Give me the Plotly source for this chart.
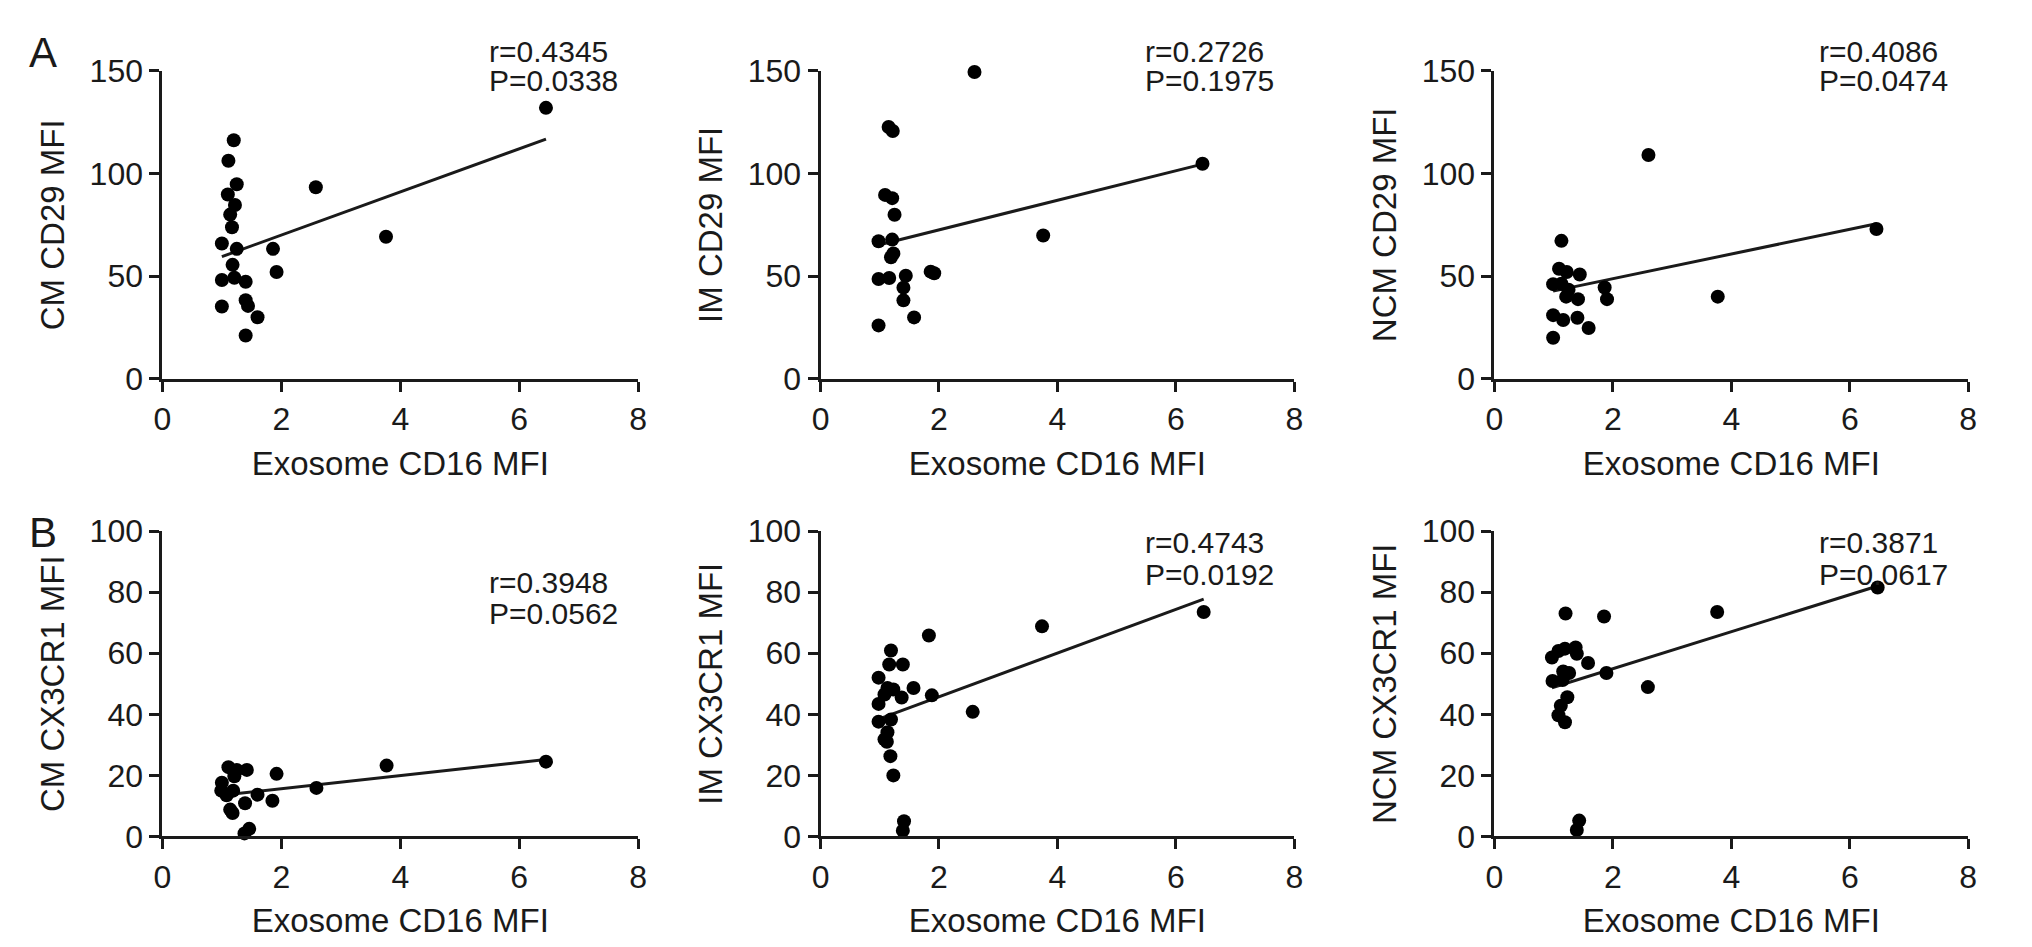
import plotly.graph_objects as go

# ---------------- data ----------------
# Panel A: CD29 MFI vs exosome CD16 MFI
a_cm_x = [1.20, 1.11, 1.25, 1.10, 1.22, 1.14, 1.17, 1.00, 1.25, 1.86, 1.18, 1.92, 1.00, 1.21, 1.40,
          1.40, 1.44, 1.00, 1.60, 1.40, 2.58, 3.76, 6.45]
a_cm_y = [116.2, 106.2, 94.8, 89.8, 84.7, 80.0, 73.8, 65.9, 63.3, 63.3, 55.5, 52.0, 48.1, 49.2, 47.3,
          38.3, 35.5, 35.2, 30.0, 21.1, 93.3, 69.2, 132.0]

a_im_x = [1.15, 1.22, 1.09, 1.21, 1.25, 0.98, 1.21, 1.23, 1.19, 0.98, 1.16, 1.44, 1.40, 1.40, 1.86,
          1.92, 1.58, 0.98, 2.60, 3.76, 6.45]
a_im_y = [122.7, 120.7, 89.6, 88.0, 79.9, 67.0, 67.8, 61.0, 59.2, 48.6, 49.1, 50.2, 44.4, 38.2, 52.2,
          51.4, 29.9, 26.0, 149.5, 69.8, 104.8]

a_ncm_x = [2.60, 1.13, 1.09, 1.22, 1.44, 0.99, 1.13, 1.25, 1.21, 1.41, 1.86, 1.90, 0.99, 1.16, 1.40,
           1.59, 0.99, 3.77, 6.45]
a_ncm_y = [109.0, 67.2, 53.6, 52.0, 50.8, 46.1, 46.3, 43.4, 40.0, 38.8, 44.5, 38.8, 31.0, 28.6, 29.7,
           24.7, 20.0, 40.0, 73.0]

# Panel B: CX3CR1 MFI vs exosome CD16 MFI
b_cm_x = [1.11, 1.25, 1.42, 1.21, 1.92, 1.00, 0.99, 1.19, 1.08, 1.60, 1.39, 1.14, 1.18, 1.85, 2.59,
          3.77, 1.46, 1.38, 6.45]
b_cm_y = [22.7, 21.8, 21.8, 19.7, 20.5, 17.6, 15.0, 15.0, 13.5, 13.7, 10.9, 8.8, 7.7, 11.7, 15.9,
          23.2, 2.5, 1.0, 24.5]

b_im_x = [1.83, 3.74, 1.19, 1.16, 1.39, 0.98, 1.13, 1.23, 1.57, 1.08, 1.37, 1.88, 0.98, 0.98, 1.19,
          1.13, 1.08, 1.12, 1.18, 1.23, 2.57, 1.41, 1.39, 6.47]
b_im_y = [65.8, 68.8, 60.9, 56.3, 56.3, 52.0, 48.6, 48.1, 48.6, 46.5, 45.5, 46.2, 43.4, 37.6, 38.3,
          34.1, 31.8, 31.0, 26.3, 20.0, 40.8, 5.0, 1.9, 73.5]

b_ncm_x = [1.20, 1.85, 3.76, 0.97, 1.08, 1.19, 1.37, 1.39, 1.58, 1.16, 1.26, 1.89, 0.98, 1.15, 2.59,
           1.23, 1.12, 1.08, 1.19, 1.43, 1.39, 6.47]
b_ncm_y = [73.0, 72.0, 73.5, 58.6, 60.7, 61.5, 61.9, 59.8, 56.8, 54.0, 53.5, 53.5, 50.9, 51.2, 48.9,
           45.6, 42.8, 39.7, 37.4, 5.2, 2.1, 81.5]

# regression line end values (y at min x and max x)
fit_a_cm = [59.5, 116.8]
fit_a_im = [65.2, 104.6]
fit_a_ncm = [42.7, 75.5]
fit_b_cm = [13.5, 25.2]
fit_b_im = [38.4, 77.7]
fit_b_ncm = [48.7, 82.0]

y_titles = ["CM CD29 MFI", "IM CD29 MFI", "NCM CD29 MFI",
            "CM CX3CR1 MFI", "IM CX3CR1 MFI", "NCM CX3CR1 MFI"]
r_labels = ["r=0.4345", "r=0.2726", "r=0.4086", "r=0.3948", "r=0.4743", "r=0.3871"]
p_labels = ["P=0.0338", "P=0.1975", "P=0.0474", "P=0.0562", "P=0.0192", "P=0.0617"]
x_title = "Exosome CD16 MFI"
x_ticks = [0, 2, 4, 6, 8]
yticks_a = [0, 50, 100, 150]
yticks_b = [0, 20, 40, 60, 80, 100]

panels = [
    (a_cm_x, a_cm_y, fit_a_cm), (a_im_x, a_im_y, fit_a_im), (a_ncm_x, a_ncm_y, fit_a_ncm),
    (b_cm_x, b_cm_y, fit_b_cm), (b_im_x, b_im_y, fit_b_im), (b_ncm_x, b_ncm_y, fit_b_ncm),
]

# ---------------- layout ----------------
W, H = 2032, 947
FONT = "Liberation Sans, Arial, Helvetica, sans-serif"
INK = "#1a1a1a"

x_domains = [[146.7 / W, 626.7 / W], [810.7 / W, 1288.7 / W], [1490.7 / W, 1968.7 / W]]
y_domains = [[1 - 366.7 / H, 1 - 46.7 / H], [1 - 842.5 / H, 1 - 525.0 / H]]
# r / P label heights as fractions of each plot's height
ann_y = [(1.062, 0.968), (1.062, 0.968), (1.062, 0.968),
         (0.833, 0.729), (0.962, 0.858), (0.962, 0.858)]

fig = go.Figure()

for i, (xs, ys, fy) in enumerate(panels):
    row, col = divmod(i, 3)
    n = i + 1
    xa = "x" if n == 1 else f"x{n}"
    ya = "y" if n == 1 else f"y{n}"
    fx = [min(xs), max(xs)]
    fig.add_trace(go.Scatter(x=fx, y=fy, mode="lines", xaxis=xa, yaxis=ya,
                             line=dict(color=INK, width=3), showlegend=False,
                             cliponaxis=False, hoverinfo="skip"))
    fig.add_trace(go.Scatter(x=xs, y=ys, mode="markers", xaxis=xa, yaxis=ya,
                             marker=dict(color="black", size=14, line=dict(width=0)),
                             showlegend=False, cliponaxis=False))

    yt = yticks_a if row == 0 else yticks_b
    axis_common = dict(showline=True, linecolor=INK, linewidth=3, ticks="outside",
                       ticklen=10, tickwidth=3, tickcolor=INK, showgrid=False,
                       zeroline=False, tickfont=dict(family=FONT, size=32, color=INK))
    fig.layout[f"xaxis{'' if n == 1 else n}"] = dict(
        domain=x_domains[col], anchor=ya, range=[0, 8], tickvals=x_ticks,
        title=dict(text=x_title, font=dict(family=FONT, size=33, color=INK), standoff=16),
        **axis_common)
    fig.layout[f"yaxis{'' if n == 1 else n}"] = dict(
        domain=y_domains[row], anchor=xa, range=[0, yt[-1]], tickvals=yt,
        title=dict(text=y_titles[i], font=dict(family=FONT, size=33, color=INK), standoff=16),
        **axis_common)

    fig.add_annotation(x=5.45, y=ann_y[i][0], xref=xa, yref=f"{ya} domain", text=r_labels[i],
                       showarrow=False, xanchor="left", yanchor="middle",
                       font=dict(family=FONT, size=30, color=INK))
    fig.add_annotation(x=5.45, y=ann_y[i][1], xref=xa, yref=f"{ya} domain", text=p_labels[i],
                       showarrow=False, xanchor="left", yanchor="middle",
                       font=dict(family=FONT, size=30, color=INK))

# panel letters
fig.add_annotation(x=26 / W, y=1 - 28 / H, xref="paper", yref="paper", text="A",
                   showarrow=False, xanchor="center", yanchor="middle",
                   font=dict(family=FONT, size=42, color=INK))
fig.add_annotation(x=26 / W, y=1 - 526 / H, xref="paper", yref="paper", text="B",
                   showarrow=False, xanchor="center", yanchor="middle",
                   font=dict(family=FONT, size=42, color=INK))

fig.update_layout(width=W, height=H, margin=dict(l=0, r=0, t=0, b=0),
                  paper_bgcolor="white", plot_bgcolor="white",
                  font=dict(family=FONT, color=INK))

fig.write_html("out.html")
